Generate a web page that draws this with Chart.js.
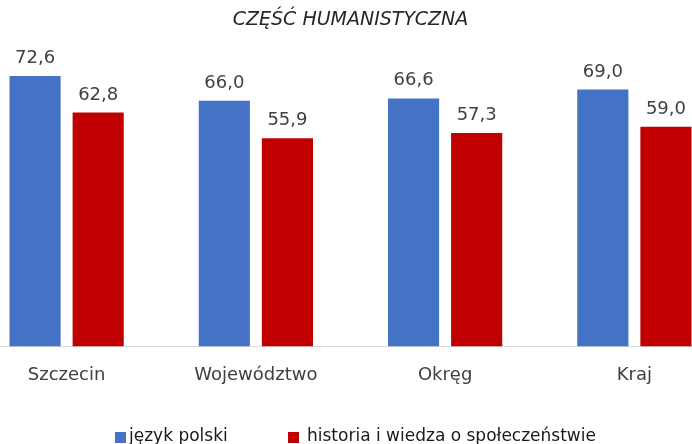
<!DOCTYPE html>
<html>
<head>
<meta charset="utf-8">
<script src="https://cdn.jsdelivr.net/npm/chart.js@4/dist/chart.umd.min.js"></script>
<style>
  html, body { margin: 0; padding: 0; background: #fff; overflow: hidden; width: 692px; height: 444px; }
  #wrap { position: absolute; left: -28px; top: 0; width: 757px; height: 444px; }
</style>
</head>
<body>
<div id="wrap"><canvas id="c"></canvas></div>
<script>
const categories = ["Szczecin", "Województwo", "Okręg", "Kraj"];
const seriesNames = ["język polski", "historia i wiedza o społeczeństwie"];
const jezykPolski = [72.6, 66.0, 66.6, 69.0];
const historiaWos = [62.8, 55.9, 57.3, 59.0];
const titleText = "CZĘŚĆ HUMANISTYCZNA";

const FONT = "'DejaVu Sans', sans-serif";
const TXT = "#404040";
const COLORS = ["#4472C4", "#C00000"];

const valueLabels = {
  id: "valueLabels",
  afterDatasetsDraw(chart) {
    const ctx = chart.ctx;
    ctx.save();
    ctx.font = "18px " + FONT;
    ctx.fillStyle = TXT;
    ctx.textAlign = "center";
    ctx.textBaseline = "alphabetic";
    chart.data.datasets.forEach((ds, i) => {
      const meta = chart.getDatasetMeta(i);
      meta.data.forEach((el, j) => {
        const v = ds.data[j];
        ctx.fillText(v.toFixed(1).replace(".", ","), el.x, el.y - 13);
      });
    });
    ctx.restore();
  }
};

// Legend drawn like the original (small square, tight gap to text)
const bottomLegend = {
  id: "bottomLegend",
  afterDraw(chart) {
    const ctx = chart.ctx;
    ctx.save();
    ctx.font = "17px " + FONT;
    ctx.textBaseline = "alphabetic";
    ctx.textAlign = "left";
    const starts = [143, 316];
    const gaps = [3, 8];
    chart.data.datasets.forEach((ds, i) => {
      const x = starts[i];
      ctx.fillStyle = ds.backgroundColor;
      ctx.fillRect(x, 432, 11, 11);
      ctx.fillStyle = "#1a1a1a";
      ctx.fillText(ds.label, x + 11 + gaps[i], 441);
    });
    ctx.restore();
  }
};

new Chart(document.getElementById("c"), {
  type: "bar",
  data: {
    labels: categories,
    datasets: [
      { label: seriesNames[0], data: jezykPolski, backgroundColor: COLORS[0],
        categoryPercentage: 0.667, barPercentage: 0.81 },
      { label: seriesNames[1], data: historiaWos, backgroundColor: COLORS[1],
        categoryPercentage: 0.667, barPercentage: 0.81 }
    ]
  },
  options: {
    responsive: true,
    maintainAspectRatio: false,
    animation: false,
    layout: { padding: { left: 0, right: 0, top: 0, bottom: 40 } },
    plugins: {
      title: {
        display: true, text: titleText, color: "#262626",
        font: { family: FONT, size: 19, style: "italic", weight: "normal" },
        padding: { top: 9, bottom: 0 }
      },
      legend: { display: false },
      tooltip: { enabled: false }
    },
    scales: {
      x: {
        grid: { display: false, drawTicks: false },
        border: { display: true, color: "#d9d9d9", width: 1 },
        ticks: { color: TXT, font: { family: FONT, size: 18 }, padding: 18 }
      },
      y: {
        display: false, min: 0, max: 84.5
      }
    }
  },
  plugins: [valueLabels, bottomLegend]
});
</script>
</body>
</html>
